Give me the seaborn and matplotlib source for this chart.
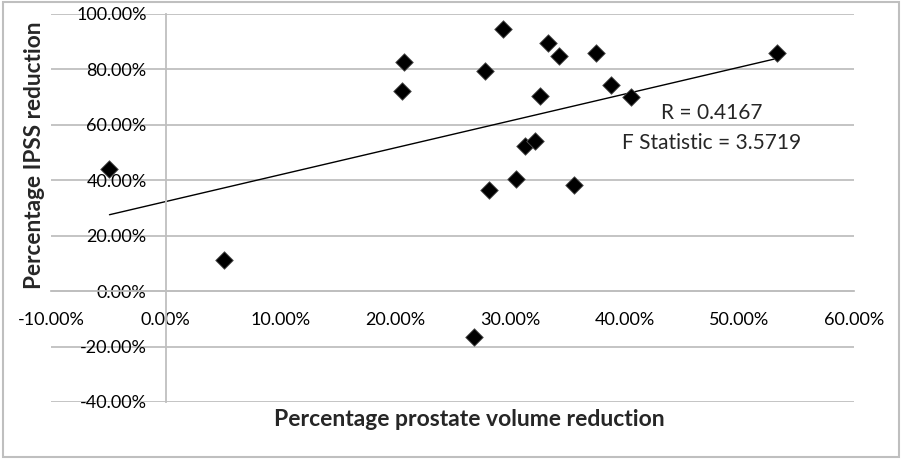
import numpy as np
import pandas as pd
import matplotlib
matplotlib.use("Agg")
import matplotlib.pyplot as plt
import seaborn as sns
from matplotlib.patches import Rectangle
from matplotlib.ticker import FuncFormatter

# data (percent)
volume_reduction = [-4.9, 5.1, 20.6, 20.8, 27.8, 29.4, 28.2, 30.5, 31.3, 32.2,
                    32.6, 33.3, 34.3, 35.6, 37.5, 38.8, 40.6, 53.3, 26.9]
ipss_reduction = [44.0, 11.2, 72.2, 82.6, 79.5, 94.7, 36.6, 40.4, 52.4, 54.1,
                  70.5, 89.4, 84.9, 38.4, 86.1, 74.3, 70.1, 86.1, -16.5]
x_ticks = [-10, 0, 10, 20, 30, 40, 50, 60]
y_ticks = [-40, -20, 0, 20, 40, 60, 80, 100]
stats_text = ["R = 0.4167", "F Statistic = 3.5719"]

df = pd.DataFrame({"volume": volume_reduction, "ipss": ipss_reduction})

sns.set_style("white")
plt.rcParams["font.family"] = ["Lato", "DejaVu Sans"]

fig = plt.figure(figsize=(9.02, 4.59), dpi=100)
ax = fig.add_axes([0.0565, 0.1242, 0.8903, 0.8453])

grid_col = "#bfbfbf"
for yv in y_ticks:
    ax.axhline(yv, color=grid_col, lw=1.3, zorder=0)

sns.regplot(data=df, x="volume", y="ipss", ci=None, ax=ax, marker="D",
            scatter_kws={"s": 80, "color": "black", "edgecolors": "#555555",
                         "linewidths": 0.6, "alpha": 1, "zorder": 3},
            line_kws={"color": "black", "lw": 1.0, "zorder": 2})

ax.set_xlim(-10, 60)
ax.set_ylim(-40, 100)
ax.set_xticks(x_ticks)
ax.set_yticks(y_ticks)
ax.xaxis.set_major_formatter(FuncFormatter(lambda v, p: f"{v:.2f}%"))
ax.yaxis.set_major_formatter(FuncFormatter(lambda v, p: f"{v:.2f}%"))

ax.spines["left"].set_position(("data", 0))
ax.spines["bottom"].set_position(("data", 0))
ax.spines["top"].set_visible(False)
ax.spines["right"].set_visible(False)
for s in ["left", "bottom"]:
    ax.spines[s].set_color(grid_col)
    ax.spines[s].set_linewidth(1.3)

ax.tick_params(axis="both", direction="out", length=3.8, width=1.3, color=grid_col,
               labelsize=13, labelcolor="black")
ax.tick_params(axis="x", pad=11)
ax.tick_params(axis="y", pad=10)
ax.set_xlabel("")
ax.set_ylabel("")

ax.text(47.6, 64.2, stats_text[0], fontsize=15, ha="center", va="center")
ax.text(47.6, 53.4, stats_text[1], fontsize=15, ha="center", va="center")

fig.text(35 / 902, 1 - 155 / 459, "Percentage IPSS reduction", rotation=90,
         fontsize=16.3, fontweight="bold", ha="center", va="center")
fig.text(469 / 902, 1 - 420 / 459, "Percentage prostate volume reduction",
         fontsize=16.5, fontweight="bold", ha="center", va="center")

fig.patches.append(Rectangle((0.003, 0.005), 0.994, 0.99, transform=fig.transFigure,
                             fill=False, edgecolor="#bfbfbf", lw=1.5))

fig.savefig("out.png", dpi=100)
